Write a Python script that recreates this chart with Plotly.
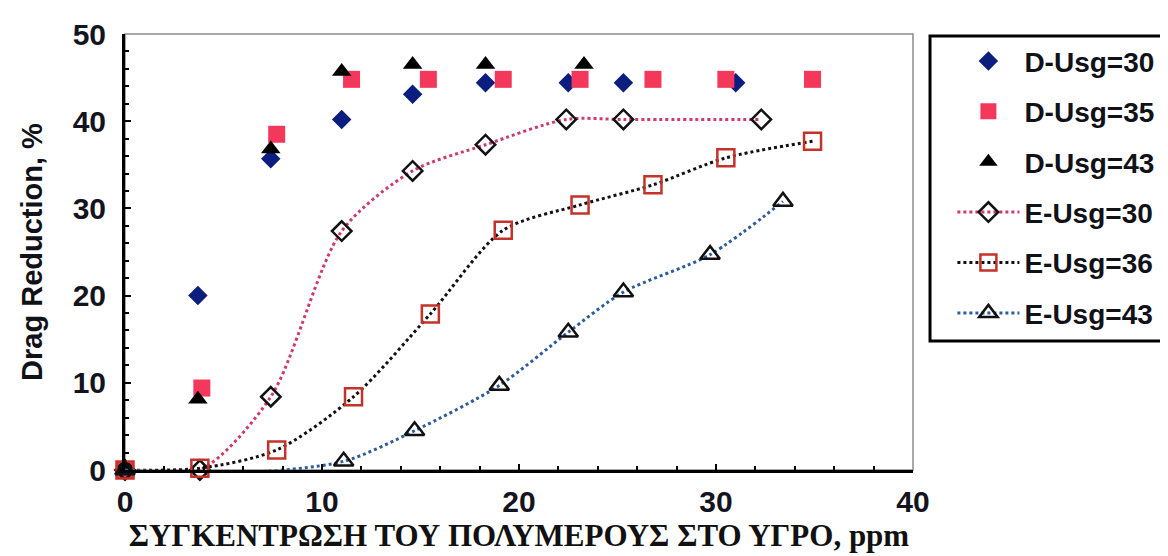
import plotly.graph_objects as go

# ---- data ----
d30_x = [3.7, 7.4, 11.0, 14.6, 18.3, 22.5, 25.3, 31.0]
d30_y = [20.0, 35.7, 40.2, 43.1, 44.4, 44.4, 44.4, 44.4]

d35_x = [0, 3.9, 7.7, 11.5, 15.4, 19.2, 23.1, 26.8, 30.5, 34.9]
d35_y = [0, 9.4, 38.5, 44.8, 44.8, 44.8, 44.8, 44.8, 44.8, 44.8]

d43_x = [0, 3.7, 7.4, 11.0, 14.6, 18.3, 23.3]
d43_y = [0, 8.1, 36.8, 45.7, 46.5, 46.5, 46.5]

e30_x = [0, 3.8, 7.4, 11.0, 14.6, 18.3, 22.4, 25.3, 32.3]
e30_y = [0, 0, 8.4, 27.4, 34.3, 37.3, 40.2, 40.2, 40.2]

e36_x = [0, 3.8, 7.7, 11.6, 15.5, 19.2, 23.1, 26.8, 30.5, 34.9]
e36_y = [0, 0.2, 2.3, 8.4, 17.9, 27.5, 30.4, 32.7, 35.8, 37.7]

e43_x = [0, 6.0, 11.1, 14.7, 19.0, 22.5, 25.3, 29.7, 33.4]
e43_y = [0, -0.3, 1.0, 4.5, 9.7, 15.8, 20.4, 24.7, 30.8]

names = ["D-Usg=30", "D-Usg=35", "D-Usg=43", "E-Usg=30", "E-Usg=36", "E-Usg=43"]
x_ticks = [0, 10, 20, 30, 40]
y_ticks = [0, 10, 20, 30, 40, 50]

fig = go.Figure()

def pts(x, y, name, symbol, size, color, lw=0, lc=None):
    fig.add_trace(go.Scatter(
        x=x, y=y, name=name, mode="markers", legendgroup=name,
        cliponaxis=False,
        marker=dict(symbol=symbol, size=size, color=color,
                    line=dict(width=lw, color=lc or color)),
    ))

def curve(x, y, name, lcolor, symbol, size, mcolor):
    fig.add_trace(go.Scatter(
        x=x, y=y, name=name, mode="lines+markers", legendgroup=name,
        cliponaxis=False,
        line=dict(color=lcolor, width=3, dash="dot", shape="spline", smoothing=0.8),
        marker=dict(symbol=symbol, size=size, color=mcolor,
                    line=dict(width=2.5, color=mcolor)),
    ))

pts(d30_x, d30_y, names[0], "diamond", 15, "#0c1d80")
pts(d35_x, d35_y, names[1], "square", 17, "#f4385c")
pts(d43_x, d43_y, names[2], "triangle-up", 17, "#000000")
curve(e30_x, e30_y, names[3], "#cf3a6c", "diamond-open", 15, "#111111")
curve(e36_x, e36_y, names[4], "#111111", "square-open", 17, "#c4322a")
curve(e43_x, e43_y, names[5], "#2c5c9c", "triangle-up-open", 17, "#111111")

tickfont = dict(family="Liberation Sans", size=30, color="#141420", weight="bold")

fig.update_layout(
    width=1168, height=556,
    margin=dict(l=117, r=263, t=26, b=94, autoexpand=False),
    paper_bgcolor="white", plot_bgcolor="white",
    showlegend=True,
    legend=dict(
        x=1.05, xanchor="left", y=0.995, yanchor="top",
        font=dict(family="Liberation Sans", size=28, color="#111118", weight="bold"),
        bgcolor="rgba(0,0,0,0)", borderwidth=0,
        itemwidth=62, tracegroupgap=11,
    ),
    shapes=[
        dict(type="rect", xref="paper", yref="paper", x0=0, y0=0, x1=1, y1=1,
             line=dict(color="#8a8a8a", width=1.5), layer="below"),
        dict(type="rect", xref="paper", yref="paper", x0=1.0216, y0=0.296, x1=1.6, y1=0.9954,
             line=dict(color="#000000", width=3)),
    ],
)

fig.update_xaxes(
    range=[0, 40], tickvals=x_ticks, ticktext=[str(v) for v in x_ticks],
    showgrid=False, zeroline=False, automargin=False,
    showline=True, linecolor="black", linewidth=3,
    ticks="inside", ticklen=6, tickwidth=2, tickcolor="black",
    minor=dict(ticks="inside", dtick=2, ticklen=4, tickwidth=2, tickcolor="black", showgrid=False),
    tickfont=tickfont, ticklabelstandoff=3,
    title=dict(text="ΣΥΓΚΕΝΤΡΩΣΗ ΤΟΥ ΠΟΛΥΜΕΡΟΥΣ ΣΤΟ ΥΓΡΟ, ppm",
               font=dict(family="Liberation Serif", size=31, color="#111111", weight="bold"),
               standoff=5),
)
fig.update_yaxes(
    range=[0, 50], tickvals=y_ticks, ticktext=[str(v) for v in y_ticks],
    showgrid=False, zeroline=False, automargin=False,
    showline=True, linecolor="black", linewidth=3,
    ticks="inside", ticklen=6, tickwidth=2, tickcolor="black",
    minor=dict(ticks="inside", dtick=2, ticklen=4, tickwidth=2, tickcolor="black", showgrid=False),
    tickfont=tickfont, ticklabelstandoff=10,
    title=dict(text="Drag Reduction, %",
               font=dict(family="Liberation Sans", size=29, color="#111118", weight="bold"),
               standoff=22),
)

fig.write_html("out.html")
